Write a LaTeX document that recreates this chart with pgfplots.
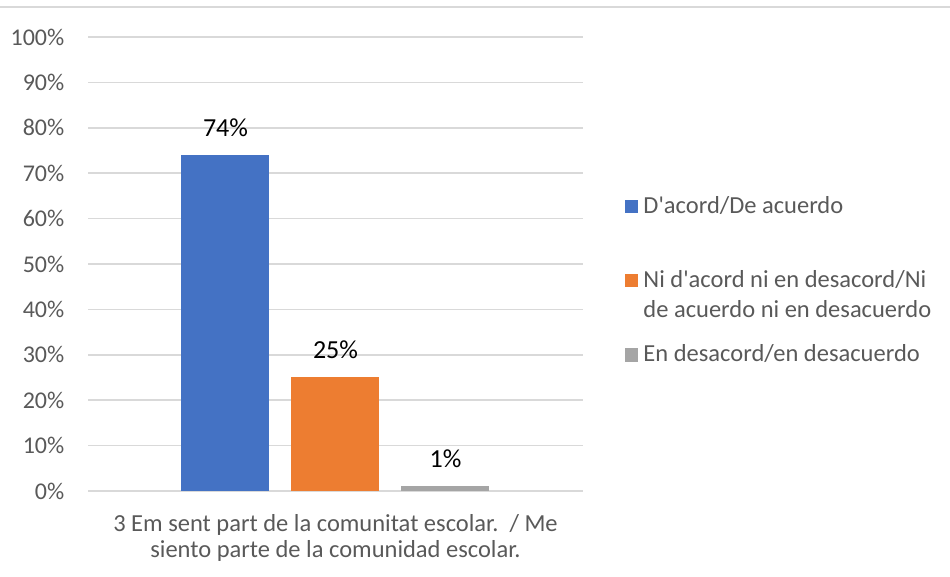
\documentclass[border=0pt]{standalone}
\usepackage{pgfplots}
\pgfplotsset{compat=1.18}
\usepackage{fontspec}
\setmainfont{Carlito}[Ligatures=TeXOff]
\definecolor{cblue}{HTML}{4472C4}
\definecolor{corange}{HTML}{ED7D31}
\definecolor{cgray}{HTML}{A5A5A5}
\definecolor{gridc}{HTML}{D9D9D9}
\definecolor{txt}{HTML}{595959}
\begin{document}
\begin{tikzpicture}[font=\fontsize{24.5bp}{29bp}\selectfont]
\path[use as bounding box] (0,0) rectangle (950bp,577bp);
\draw[gridc, line width=2bp] (0,570bp) -- (950bp,570bp);
\begin{axis}[
  at={(88bp,86bp)}, anchor=south west,
  scale only axis, width=495bp, height=454bp,
  ybar, bar width=0.8,
  xmin=-2.25, xmax=2.25, ymin=0, ymax=100,
  ytick={0,10,...,100},
  yticklabels={0\%,10\%,20\%,30\%,40\%,50\%,60\%,70\%,80\%,90\%,100\%},
  xtick={0},
  xticklabels={{3 Em sent part de la comunitat escolar.\ \ / Me\\siento parte de la comunidad escolar.}},
  ymajorgrids, grid style={gridc, line width=1.5bp},
  axis line style={draw=none},
  major tick length=0pt,
  tick label style={text=txt},
  yticklabel style={inner sep=0pt, xshift=-23.5bp, font=\fontsize{24bp}{28bp}\selectfont},
  xticklabel style={align=center, inner sep=0pt, yshift=-23bp, font=\fontsize{24.5bp}{26bp}\selectfont},
  /pgf/number format/assume math mode=true,
  nodes near coords={\pgfmathprintnumber{\pgfplotspointmeta}\%},
  every node near coord/.append style={text=black, anchor=base, inner sep=0pt, yshift=19bp, font=\fontsize{26bp}{30bp}\selectfont},
  legend style={at={(1.0848,0.7526)}, anchor=north west, draw=none, fill=none,
    inner sep=0pt, outer sep=0pt, row sep=-10bp, column sep=5bp,
    nodes={inner sep=0pt, text depth={}, text=txt}},
  legend cell align=left,
]
\addplot[fill=cblue, draw=none, bar shift=0,
  legend image code/.code={\fill[cblue] (0bp,0bp) rectangle (13.5bp,13.5bp);}]
  coordinates {(-1,74)};
\addlegendentry{\rule[-64bp]{0pt}{128bp}D'acord/De acuerdo}
\addplot[fill=corange, draw=none, bar shift=0,
  legend image code/.code={\fill[corange] (0bp,0bp) rectangle (13.5bp,13.5bp);}]
  coordinates {(0,25)};
\addlegendentry{\rule[-20bp]{0pt}{40bp}Ni d'acord ni en desacord/Ni}
\addlegendimage{empty legend}
\addlegendentry{\rule[-20bp]{0pt}{40bp}de acuerdo ni en desacuerdo}
\addplot[fill=cgray, draw=none, bar shift=0,
  legend image code/.code={\fill[cgray] (0bp,0bp) rectangle (13.5bp,13.5bp);}]
  coordinates {(1,1)};
\addlegendentry{\rule[-34.4bp]{0pt}{68.8bp}En desacord/en desacuerdo}
\end{axis}
\end{tikzpicture}
\end{document}
